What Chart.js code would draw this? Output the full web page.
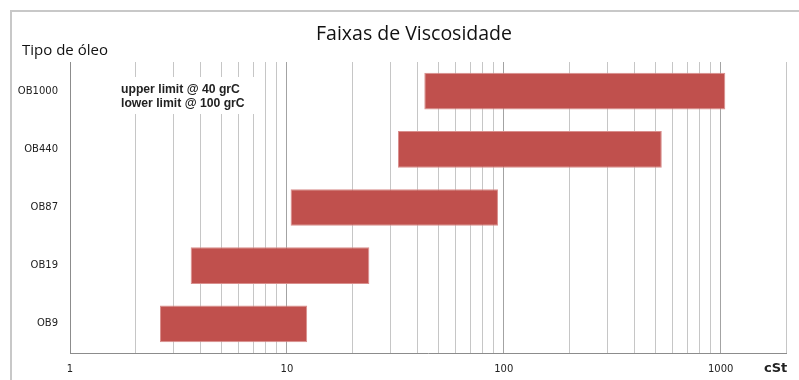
<!DOCTYPE html>
<html>
<head>
<meta charset="utf-8">
<title>Faixas de Viscosidade</title>
<script src="https://cdn.jsdelivr.net/npm/chart.js@4/dist/chart.umd.min.js"></script>
<style>
  html, body { margin: 0; padding: 0; background: #fff; }
  #wrap { width: 799px; height: 380px; overflow: hidden; }
</style>
</head>
<body>
<div id="wrap"><canvas id="viscosityChart" width="799" height="380"></canvas></div>
<script>
// oil grades, top to bottom
const categories = ["OB1000", "OB440", "OB87", "OB19", "OB9"];
// viscosity range per grade, cSt (lower end @ 100 grC, upper end @ 40 grC)
const lowerLimits = [43, 32.5, 10.4, 3.6, 2.6];
const upperLimits = [1050, 535, 94, 24, 12.4];
// labelled decades on the log axis
const xTickLabels = [1, 10, 100, 1000];
const xMin = 1;
const xMax = 2000;

const chartTitle = "Faixas de Viscosidade";
const yAxisTitle = "Tipo de óleo";
const xUnit = "cSt";
const noteLines = ["upper limit @ 40 grC", "lower limit @ 100 grC"];

const isDecade = (v) => Math.abs(Math.log10(v) - Math.round(Math.log10(v))) < 1e-9;

// 1..9 steps inside every decade, up to the axis max
function logGridTicks() {
  const ticks = [];
  for (const d of xTickLabels) {
    for (let k = 1; k <= 9; k++) {
      const v = k * d;
      if (v >= xMin && v <= xMax) ticks.push({ value: v, major: k === 1 });
    }
  }
  return ticks;
}

const decorations = {
  id: "decorations",
  beforeDraw(chart) {
    const ctx = chart.ctx;
    ctx.save();
    ctx.strokeStyle = "#c8c8c8";
    ctx.lineWidth = 2;
    ctx.strokeRect(11, 11, 900, 500);
    ctx.restore();
  },
  afterDraw(chart) {
    const ctx = chart.ctx;
    ctx.save();
    ctx.fillStyle = "#111";
    ctx.textBaseline = "middle";

    ctx.font = "19.5px 'Open Sans'";
    ctx.textAlign = "center";
    ctx.fillText(chartTitle, 414, 34);

    ctx.font = "15px 'Open Sans'";
    ctx.textAlign = "left";
    ctx.fillText(yAxisTitle, 22, 51);

    ctx.font = "bold 13px 'DejaVu Sans'";
    ctx.fillStyle = "#222";
    ctx.fillText(xUnit, 764, 369);

    // note box sits over the gridlines
    ctx.fillStyle = "#fff";
    ctx.fillRect(117, 77, 146, 37);
    ctx.fillStyle = "#222";
    ctx.font = "bold 12.2px 'Liberation Sans'";
    noteLines.forEach((line, i) => ctx.fillText(line, 121, 90 + i * 14));
    ctx.restore();
  },
};

new Chart(document.getElementById("viscosityChart"), {
  type: "bar",
  data: {
    labels: categories,
    datasets: [
      {
        data: categories.map((_, i) => [lowerLimits[i], upperLimits[i]]),
        backgroundColor: "#c0504d",
        borderColor: "#d98f8d",
        borderWidth: 1,
        borderSkipped: false,
        barPercentage: 0.63,
        categoryPercentage: 1,
      },
    ],
  },
  options: {
    indexAxis: "y",
    responsive: false,
    animation: false,
    layout: { padding: { top: 62, right: 13, left: 0, bottom: 0 } },
    plugins: {
      legend: { display: false },
      tooltip: { enabled: false },
      title: { display: false },
    },
    scales: {
      x: {
        type: "logarithmic",
        min: xMin,
        max: xMax,
        afterBuildTicks(scale) { scale.ticks = logGridTicks(); },
        afterFit(scale) { scale.height = 27; },
        border: { display: true, color: "#8c8c8c", width: 1 },
        grid: {
          drawTicks: false,
          color: (c) => (c.tick && isDecade(c.tick.value) ? "#a3a3a3" : "#c6c6c6"),
        },
        ticks: {
          autoSkip: false,
          maxRotation: 0,
          padding: 10,
          color: "#222",
          font: { family: "DejaVu Sans", size: 10 },
          callback: (v) => (xTickLabels.includes(v) ? String(v) : ""),
        },
      },
      y: {
        afterFit(scale) { scale.width = 70; },
        border: { display: true, color: "#8c8c8c", width: 1 },
        grid: { display: false, drawTicks: false },
        ticks: {
          padding: 12,
          color: "#222",
          font: { family: "DejaVu Sans", size: 10 },
        },
      },
    },
  },
  plugins: [decorations],
});
</script>
</body>
</html>
